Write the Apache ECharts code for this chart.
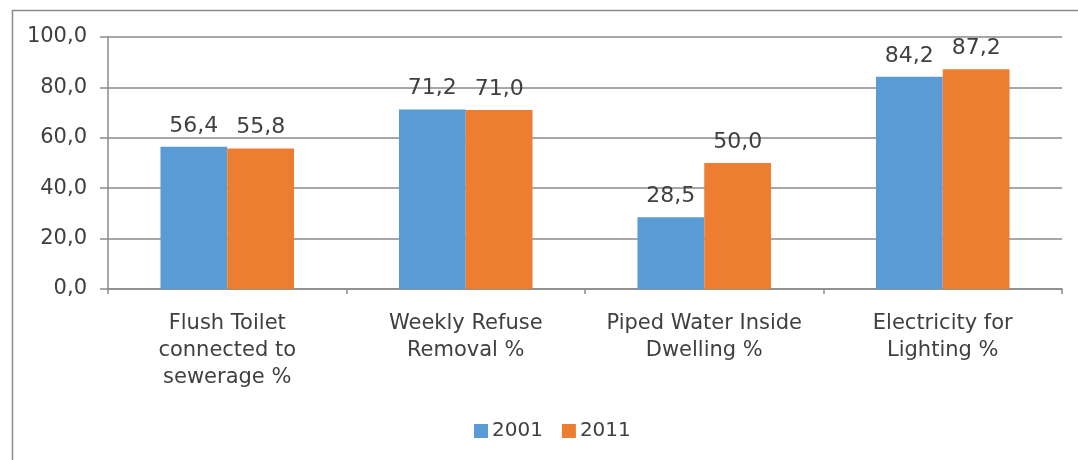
<!DOCTYPE html>
<html>
<head>
<meta charset="utf-8">
<script src="https://cdn.jsdelivr.net/npm/echarts@6/dist/echarts.min.js"></script>
<style>
  html, body { margin: 0; padding: 0; background: #fff; }
  #chart { width: 1078px; height: 460px; }
</style>
</head>
<body>
<div id="chart"></div>
<script>
// 数据
const categories = [
  'Flush Toilet\nconnected to\nsewerage %',
  'Weekly Refuse\nRemoval %',
  'Piped Water Inside\nDwelling %',
  'Electricity for\nLighting %'
]
const values2001 = [56.4, 71.2, 28.5, 84.2]
const values2011 = [55.8, 71.0, 50.0, 87.2]
const seriesNames = ['2001', '2011']
const yTicks = [0, 20, 40, 60, 80, 100]

const colors = ['#5B9BD5', '#ED7D31']
const textColor = '#404040'
const lineColor = '#8a8a8a'
const fontFamily = '"DejaVu Sans", Verdana, sans-serif'

// 逗号小数
const fmt = v => Number(v).toFixed(1).replace('.', ',')

const chart = echarts.init(document.getElementById('chart'))

const barLabel = {
  show: true,
  position: 'top',
  distance: 10,
  color: textColor,
  fontSize: 22,
  fontFamily: fontFamily,
  formatter: p => fmt(p.value)
}

const option = {
  animation: false,
  backgroundColor: '#fff',
  graphic: [
    {
      type: 'rect',
      left: 10,
      top: 8,
      shape: { width: 1200, height: 600 },
      style: { fill: 'none', stroke: lineColor, lineWidth: 1.5 },
      silent: true
    }
  ],
  legend: {
    left: 469,
    top: 416,
    icon: 'rect',
    itemWidth: 14,
    itemHeight: 14,
    itemGap: 19,
    textStyle: { color: textColor, fontSize: 20, fontFamily: fontFamily, padding: [0, 0, 0, -1] },
    data: seriesNames
  },
  grid: {
    left: 108,
    right: 16,
    top: 37,
    bottom: 171
  },
  xAxis: {
    type: 'category',
    data: categories,
    axisLine: { show: true, lineStyle: { color: lineColor, width: 1.5 } },
    axisTick: { show: true, length: 5, lineStyle: { color: lineColor, width: 1.5 } },
    axisLabel: {
      color: textColor,
      fontSize: 21,
      fontFamily: fontFamily,
      lineHeight: 27,
      margin: 21,
      interval: 0,
      align: 'center'
    }
  },
  yAxis: {
    type: 'value',
    min: yTicks[0],
    max: yTicks[yTicks.length - 1],
    interval: 20,
    axisLine: { show: true, lineStyle: { color: lineColor, width: 1.5 } },
    axisTick: { show: true, length: 8, lineStyle: { color: lineColor, width: 1.5 } },
    splitLine: { show: true, lineStyle: { color: lineColor, width: 1.5 } },
    axisLabel: {
      color: textColor,
      fontSize: 21,
      fontFamily: fontFamily,
      margin: 21,
      formatter: v => fmt(v)
    }
  },
  series: [
    {
      name: seriesNames[0],
      type: 'bar',
      data: values2001,
      itemStyle: { color: colors[0] },
      barGap: '0%',
      barCategoryGap: '44%',
      label: barLabel
    },
    {
      name: seriesNames[1],
      type: 'bar',
      data: values2011,
      itemStyle: { color: colors[1] },
      barGap: '0%',
      barCategoryGap: '44%',
      label: barLabel
    }
  ]
}

chart.setOption(option)
</script>
</body>
</html>
